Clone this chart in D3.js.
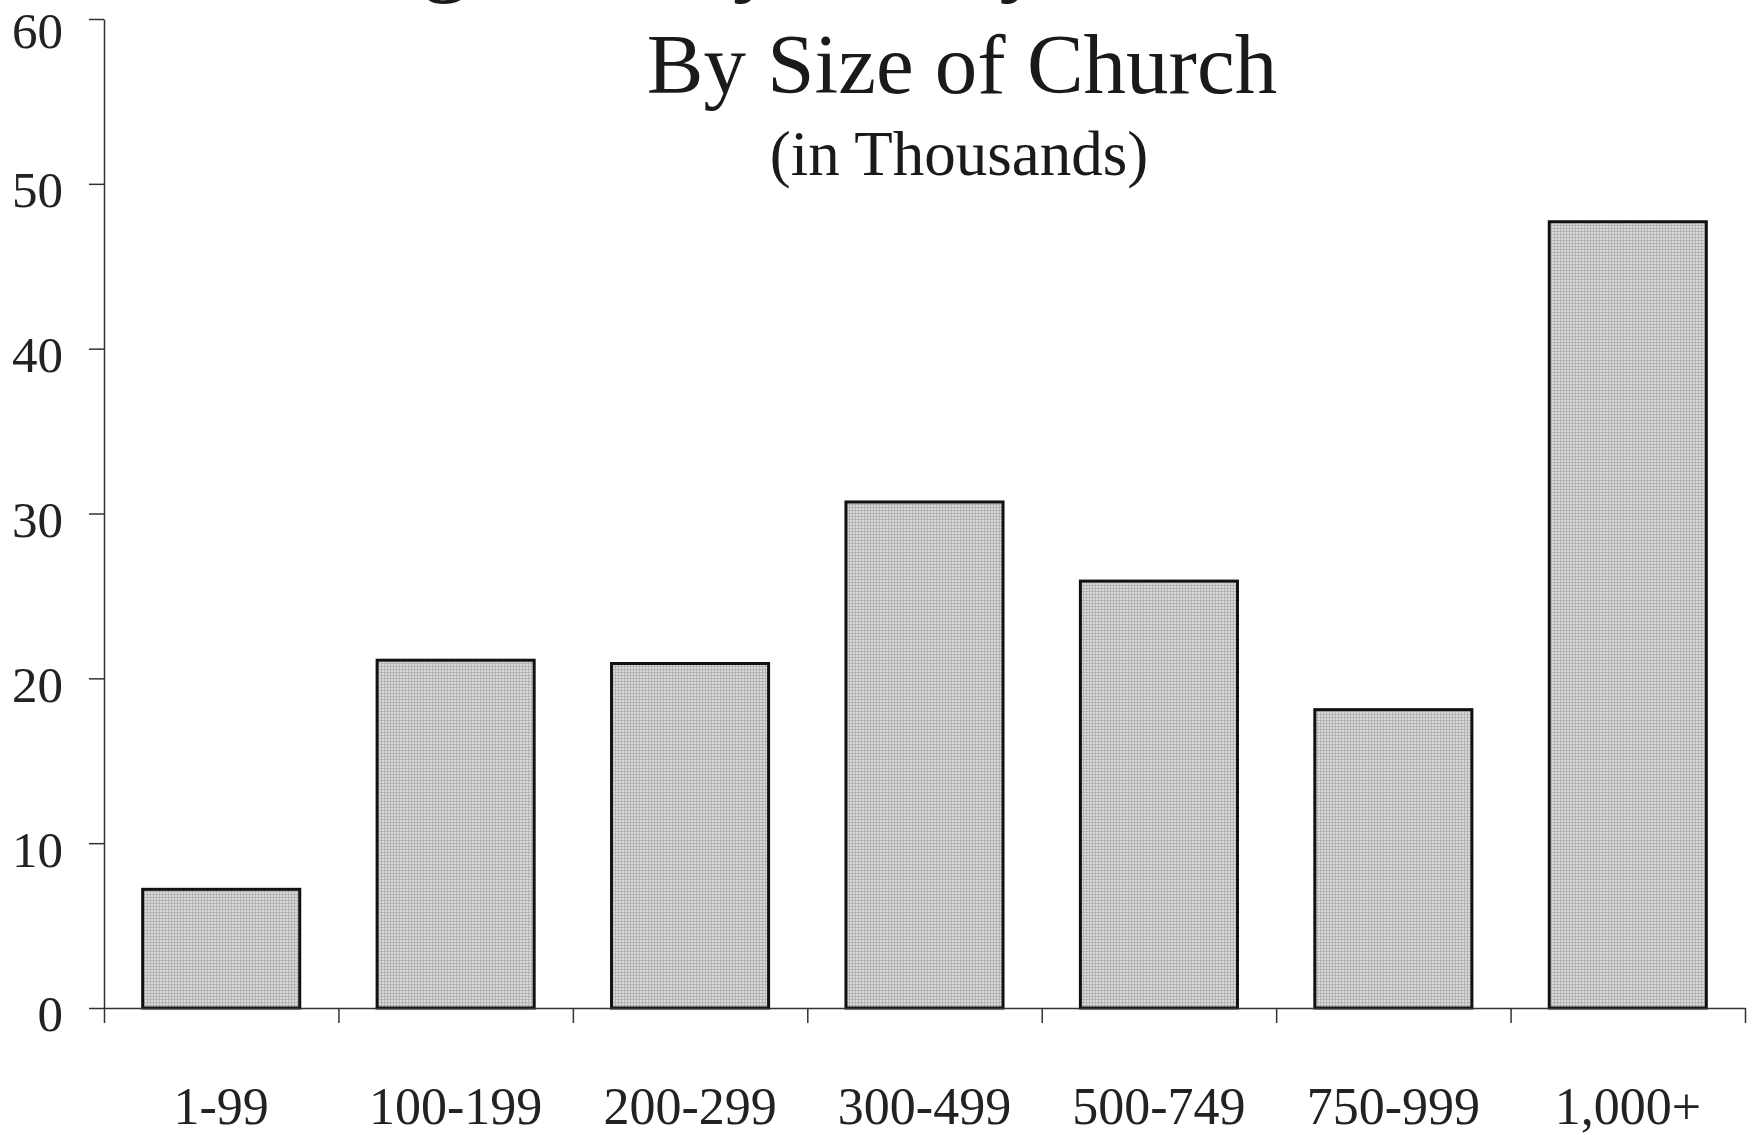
<!DOCTYPE html>
<html lang="en">
<head>
<meta charset="utf-8">
<title>By Size of Church</title>
<script src="https://cdn.jsdelivr.net/npm/d3@7"></script>
<style>
  body { margin: 0; background: #fff; }
  svg { display: block; }
  .axis text { font-family: "Liberation Serif", "Times New Roman", serif; fill: #222; }
  .title { font-family: "Liberation Serif", "Times New Roman", serif; fill: #1a1a1a; }
</style>
</head>
<body>
<script>
// chart data
var categories = ["1-99", "100-199", "200-299", "300-499", "500-749", "750-999", "1,000+"];
var values = [7.2, 21.1, 20.9, 30.7, 25.9, 18.1, 47.7];
var yTicks = [0, 10, 20, 30, 40, 50, 60];

var w = 1754, h = 1135;
var plotLeft = 104, plotRight = 1745, plotTop = 19, plotBottom = 1008;

var svg = d3.select("body").append("svg")
    .attr("width", w)
    .attr("height", h);

// dithered grey fill like the scanned original
var pat = svg.append("defs").append("pattern")
    .attr("id", "grain")
    .attr("width", 3).attr("height", 3)
    .attr("patternUnits", "userSpaceOnUse");
pat.append("rect").attr("width", 3).attr("height", 3).attr("fill", "#dadada");
pat.append("path").attr("d", "M0,0.5H3M0.5,0V3")
    .attr("stroke", "#b4b4b4").attr("stroke-width", 1);

var x = d3.scaleBand().domain(categories).range([plotLeft, plotRight]).padding(0);
var xEdge = d3.scaleLinear().domain([0, categories.length]).range([plotLeft, plotRight]);
var y = d3.scaleLinear().domain([0, 60]).range([plotBottom, plotTop]);

// titles (first line is cut off at the top of the page)
svg.append("text").attr("class", "title")
    .attr("x", 958).attr("y", -16)
    .attr("text-anchor", "middle")
    .style("font-size", "95px")
    .text("Average Yearly Salary of Senior Pastors");
svg.append("text").attr("class", "title")
    .attr("x", 962).attr("y", 93)
    .attr("text-anchor", "middle")
    .style("font-size", "85px")
    .text("By Size of Church");
svg.append("text").attr("class", "title")
    .attr("x", 959).attr("y", 175)
    .attr("text-anchor", "middle")
    .style("font-size", "63px")
    .text("(in Thousands)");

// bars
var inset = 0.165;
svg.selectAll("rect.bar")
    .data(values)
    .enter()
    .append("rect")
    .attr("class", "bar")
    .attr("x", function(d, i) { return x(categories[i]) + x.bandwidth() * inset; })
    .attr("width", x.bandwidth() * (1 - 2 * inset))
    .attr("y", function(d) { return y(d); })
    .attr("height", function(d) { return y(0) - y(d); })
    .attr("fill", "url(#grain)")
    .attr("stroke", "#111")
    .attr("stroke-width", 3);

// y axis
var yAxis = svg.append("g").attr("class", "axis")
    .attr("transform", "translate(" + plotLeft + ",0)")
    .call(d3.axisLeft(y).tickValues(yTicks).tickSize(15).tickSizeOuter(0).tickPadding(26));
yAxis.selectAll("text").style("font-size", "51px")
    .attr("dy", function(d) { return d === 60 ? "0.55em" : "0.45em"; });

// x axis: ticks on the band edges, labels under the band centres
var xAxis = svg.append("g").attr("class", "axis")
    .attr("transform", "translate(0," + plotBottom + ")")
    .call(d3.axisBottom(xEdge).tickValues(d3.range(categories.length + 1))
        .tickSize(15).tickSizeOuter(0).tickFormat(""));
var xLabels = svg.append("g").attr("class", "axis")
    .attr("transform", "translate(0," + plotBottom + ")")
    .call(d3.axisBottom(x).tickSize(0));
xLabels.select(".domain").remove();
xLabels.selectAll("text").style("font-size", "52px").attr("y", 116).attr("dy", 0);

svg.selectAll(".axis path, .axis line").attr("stroke", "#333").attr("stroke-width", 1.5);
</script>
</body>
</html>
